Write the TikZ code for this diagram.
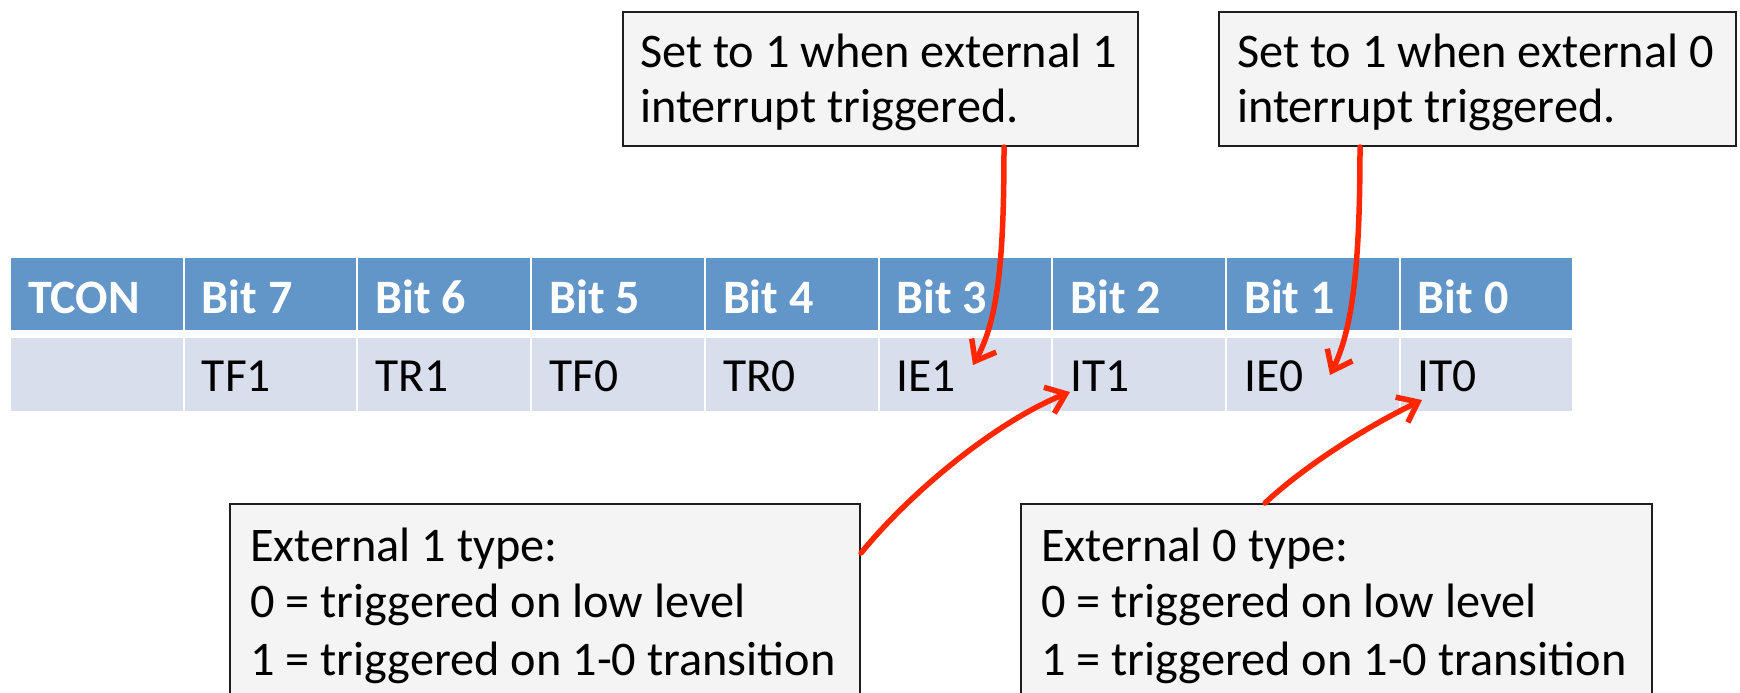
\documentclass[tikz,border=0pt]{standalone}
\usepackage{fontspec}
\setmainfont{Carlito}
\usetikzlibrary{arrows.meta}
\definecolor{hdrblue}{RGB}{98,150,201}
\definecolor{rowblue}{RGB}{217,222,236}
\definecolor{boxfill}{RGB}{244,244,244}
\definecolor{boxline}{RGB}{30,30,30}
\definecolor{arrred}{RGB}{255,38,0}
\begin{document}
\begin{tikzpicture}[x=1pt,y=-1pt,
  hcell/.style={fill=hdrblue, draw=none, minimum width=171.7pt, minimum height=72pt, inner sep=0pt},
  dcell/.style={fill=rowblue, draw=none, minimum width=171.7pt, minimum height=73pt, inner sep=0pt},
  htxt/.style={anchor=base west, inner sep=0pt, text=white, font=\fontsize{48}{56}\selectfont\bfseries},
  dtxt/.style={anchor=base west, inner sep=0pt, font=\fontsize{47.5}{56}\selectfont},
  callout/.style={draw=boxline, line width=2pt, fill=boxfill, anchor=north west, inner sep=0pt},
  ctxt/.style={anchor=base west, inner sep=0pt, font=\fontsize{48.3}{56}\selectfont},
  pointer/.style={draw=arrred, line width=5.5pt, line cap=round, -{Straight Barb[length=18pt,width=28pt]}}
]
\useasboundingbox (0,0) rectangle (1740,693);
\clip (0,0) rectangle (1740,693);

% table
\foreach \h/\d [count=\i from 0] in {TCON/,Bit 7/TF1,Bit 6/TR1,Bit 5/TF0,Bit 4/TR0,Bit 3/IE1,Bit 2/IT1,Bit 1/IE0,Bit 0/IT0}{
  \pgfmathsetmacro\cx{10+173.7*(\i+0.5)}
  \pgfmathsetmacro\tx{10+173.7*\i+18}
  \node[hcell] (h\i) at (\cx,294) {};
  \node[dcell] (d\i) at (\cx,374.5) {};
  \node[htxt] at (\tx,313) {\h};
  \node[dtxt] at (\tx,391) {\d};
}

% callout boxes
\node[callout, minimum width=515pt, minimum height=134pt] (b1) at (622,11) {};
\node[ctxt] at (640,67) {Set to 1 when external 1};
\node[ctxt] at (640,122) {interrupt triggered.};

\node[callout, minimum width=517pt, minimum height=134pt] (b2) at (1218,11) {};
\node[ctxt] at (1237,67) {Set to 1 when external 0};
\node[ctxt] at (1237,122) {interrupt triggered.};

\node[callout, minimum width=630pt, minimum height=240pt] (b3) at (229,503) {};
\node[ctxt] at (250,561) {External 1 type:};
\node[ctxt] at (250,617) {0 = triggered on low level};
\node[ctxt] at (250,675) {1 = triggered on 1-0 transition};

\node[callout, minimum width=631pt, minimum height=240pt] (b4) at (1020,503) {};
\node[ctxt] at (1041,561) {External 0 type:};
\node[ctxt] at (1041,617) {0 = triggered on low level};
\node[ctxt] at (1041,675) {1 = triggered on 1-0 transition};

% arrow targets
\coordinate (e1) at (973,365);
\coordinate (e2) at (1330,375);
\coordinate (e3) at (1070,392);
\coordinate (e4) at (1422,400);

% arrows
\draw[pointer] (1004,0 |- b1.south) .. controls (1004,260) and (998,320) .. (e1);
\draw[pointer] (1360,0 |- b2.south) .. controls (1360,270) and (1352,330) .. (e2);
\draw[pointer] (b3.east |- 0,553) .. controls (915,487) and (1000,420) .. (e3);
\draw[pointer] (1265,0 |- b4.north) .. controls (1300,470) and (1360,430) .. (e4);
\end{tikzpicture}
\end{document}
